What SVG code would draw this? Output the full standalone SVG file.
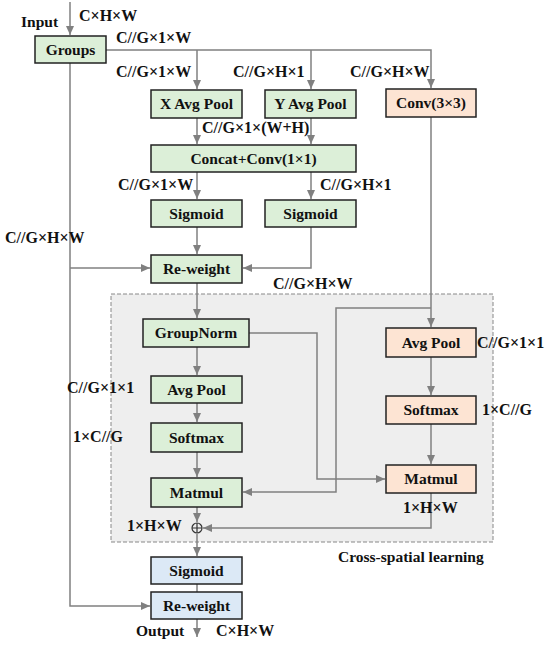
<svg xmlns="http://www.w3.org/2000/svg" width="550" height="646" viewBox="0 0 550 646">
<defs>
<marker id="arr" markerUnits="userSpaceOnUse" markerWidth="9" markerHeight="8" refX="9" refY="4" orient="auto">
<path d="M0,0 L9,4 L0,8 Z" fill="#808080"/>
</marker>
<style>
text{font-family:"Liberation Serif","Times New Roman",serif;font-weight:bold;font-size:15.5px;fill:#111}
.d{font-size:16px}
.box{stroke:#222;stroke-width:1.5}
.g{fill:#dcefd8}
.o{fill:#fde4d3}
.b{fill:#dce9f6}
.c{fill:none;stroke:#808080;stroke-width:1.5}
.m{text-anchor:middle}
</style>
</defs>
<rect id="cross-spatial" x="111" y="294" width="382" height="248" fill="#eeeeee" stroke="#888" stroke-width="1" stroke-dasharray="4,2"/>
<g id="connectors">
<path class="c" d="M70,2 V35" marker-end="url(#arr)"/>
<path class="c" d="M106,50 H431 V88" marker-end="url(#arr)"/>
<path class="c" d="M197,50 V89" marker-end="url(#arr)"/>
<path class="c" d="M311,50 V89" marker-end="url(#arr)"/>
<path class="c" d="M197,118 V144" marker-end="url(#arr)"/>
<path class="c" d="M311,118 V144" marker-end="url(#arr)"/>
<path class="c" d="M197,172 V199" marker-end="url(#arr)"/>
<path class="c" d="M311,172 V199" marker-end="url(#arr)"/>
<path class="c" d="M197,227 V254" marker-end="url(#arr)"/>
<path class="c" d="M311,227 V268 H243" marker-end="url(#arr)"/>
<path class="c" d="M70,63 V606 H150" marker-end="url(#arr)"/>
<path class="c" d="M70,268 H150" marker-end="url(#arr)"/>
<path class="c" d="M197,283 V318" marker-end="url(#arr)"/>
<path class="c" d="M431,117 V327" marker-end="url(#arr)"/>
<path class="c" d="M431,308 H336 V492 H243" marker-end="url(#arr)"/>
<path class="c" d="M249,333 H317 V479 H385" marker-end="url(#arr)"/>
<path class="c" d="M197,347 V375" marker-end="url(#arr)"/>
<path class="c" d="M197,403 V422" marker-end="url(#arr)"/>
<path class="c" d="M197,452 V477" marker-end="url(#arr)"/>
<path class="c" d="M197,507 V522" marker-end="url(#arr)"/>
<path class="c" d="M431,357 V395" marker-end="url(#arr)"/>
<path class="c" d="M431,424 V464" marker-end="url(#arr)"/>
<path class="c" d="M431,493 V528 H203" marker-end="url(#arr)"/>
<path class="c" d="M197,534 V556" marker-end="url(#arr)"/>
<path class="c" d="M197,584 V592"/>
<path class="c" d="M197,619 V637" marker-end="url(#arr)"/>
</g>
<g id="groups"><rect class="box g" x="35" y="36" width="71" height="27"/><text class="m" x="70.5" y="55">Groups</text></g>
<g id="x-avg-pool"><rect class="box g" x="151" y="90" width="91" height="28"/><text class="m" x="196.5" y="109">X Avg Pool</text></g>
<g id="y-avg-pool"><rect class="box g" x="265" y="90" width="91" height="28"/><text class="m" x="310.5" y="109">Y Avg Pool</text></g>
<g id="conv3x3"><rect class="box o" x="386" y="89" width="90" height="28"/><text class="m" x="431" y="108">Conv(3×3)</text></g>
<g id="concat"><rect class="box g" x="151" y="145" width="205" height="27"/><text class="m" x="253.5" y="164">Concat+Conv(1×1)</text></g>
<g id="sigmoid-x"><rect class="box g" x="151" y="200" width="91" height="27"/><text class="m" x="196.5" y="219">Sigmoid</text></g>
<g id="sigmoid-y"><rect class="box g" x="265" y="200" width="91" height="27"/><text class="m" x="310.5" y="219">Sigmoid</text></g>
<g id="reweight-1"><rect class="box g" x="151" y="255" width="91" height="28"/><text class="m" x="196.5" y="274">Re-weight</text></g>
<g id="groupnorm"><rect class="box g" x="143" y="319" width="106" height="28"/><text class="m" x="196" y="338">GroupNorm</text></g>
<g id="avgpool-l"><rect class="box g" x="151" y="376" width="91" height="27"/><text class="m" x="196.5" y="395">Avg Pool</text></g>
<g id="softmax-l"><rect class="box g" x="151" y="423" width="91" height="29"/><text class="m" x="196.5" y="443">Softmax</text></g>
<g id="matmul-l"><rect class="box g" x="151" y="478" width="91" height="29"/><text class="m" x="196.5" y="498">Matmul</text></g>
<g id="avgpool-r"><rect class="box o" x="386" y="328" width="90" height="29"/><text class="m" x="431" y="348">Avg Pool</text></g>
<g id="softmax-r"><rect class="box o" x="386" y="396" width="90" height="28"/><text class="m" x="431" y="415">Softmax</text></g>
<g id="matmul-r"><rect class="box o" x="386" y="465" width="90" height="28"/><text class="m" x="431" y="484">Matmul</text></g>
<g id="add"><circle cx="197" cy="528" r="5" fill="none" stroke="#333" stroke-width="1.2"/><path d="M192,528 H202 M197,523 V533" stroke="#333" stroke-width="1.2"/></g>
<g id="sigmoid-out"><rect class="box b" x="151" y="557" width="91" height="27"/><text class="m" x="196.5" y="576">Sigmoid</text></g>
<g id="reweight-out"><rect class="box b" x="151" y="592" width="91" height="27"/><text class="m" x="196.5" y="611">Re-weight</text></g>
<g id="labels">
<text x="21" y="27">Input</text>
<text class="d" x="79" y="21">C×H×W</text>
<text class="d" x="116" y="43">C//G×1×W</text>
<text class="d" x="116" y="77">C//G×1×W</text>
<text class="d" x="233" y="77">C//G×H×1</text>
<text class="d" x="350" y="77">C//G×H×W</text>
<text class="d" x="202" y="133">C//G×1×(W+H)</text>
<text class="d" x="118" y="190">C//G×1×W</text>
<text class="d" x="320" y="190">C//G×H×1</text>
<text class="d" x="5" y="243">C//G×H×W</text>
<text class="d" x="273" y="289">C//G×H×W</text>
<text class="d" x="67" y="393">C//G×1×1</text>
<text class="d" x="73" y="442">1×C//G</text>
<text class="d" x="477" y="348">C//G×1×1</text>
<text class="d" x="482" y="415">1×C//G</text>
<text class="d" x="403" y="513">1×H×W</text>
<text class="d" x="127" y="531">1×H×W</text>
<text x="338" y="562">Cross-spatial learning</text>
<text x="136" y="636">Output</text>
<text class="d" x="216" y="636">C×H×W</text>
</g>
</svg>
